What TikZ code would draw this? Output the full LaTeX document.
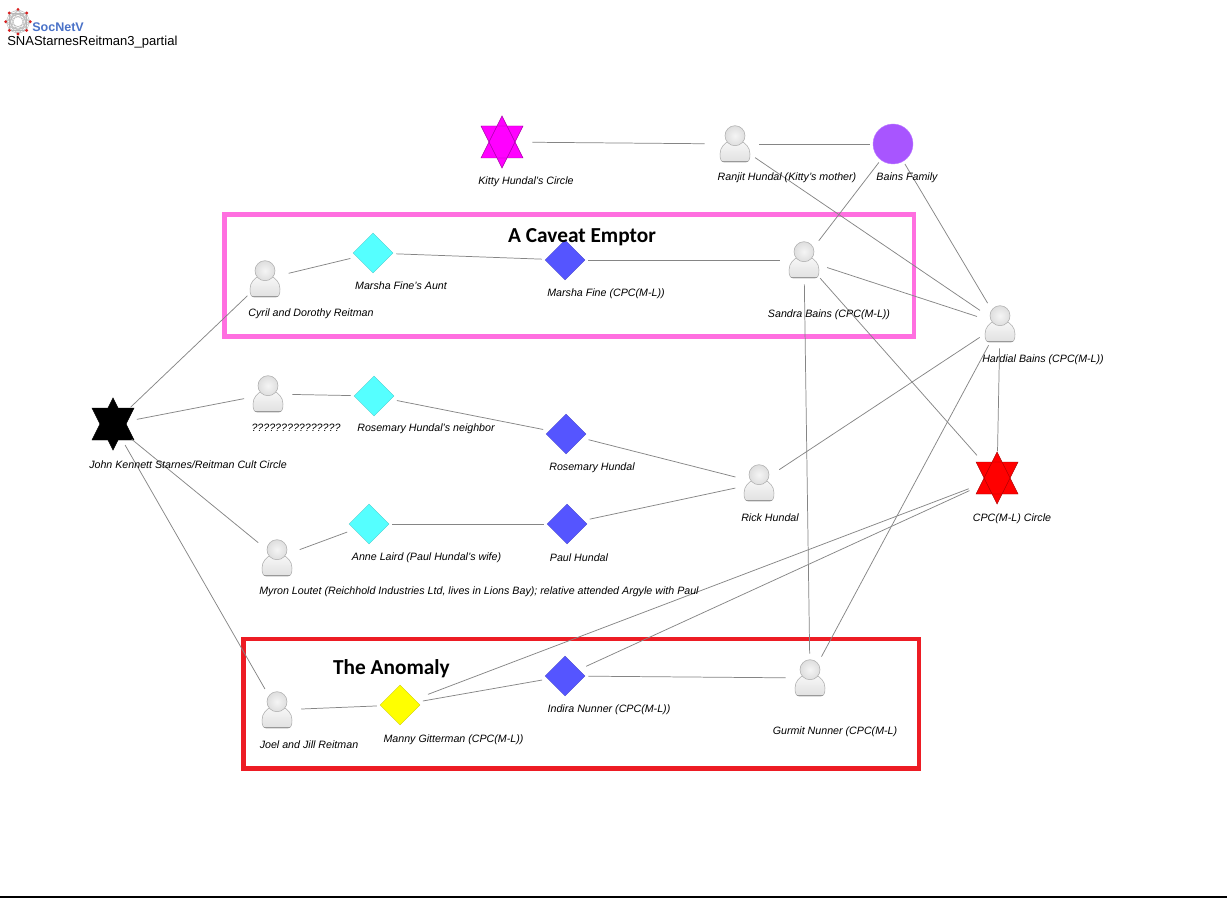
\documentclass[tikz,border=0pt]{standalone}
\usepackage{fontspec}
\usetikzlibrary{calc}
\setmainfont{Liberation Sans}
\newfontfamily\titlefont{Carlito}
\definecolor{edgegrey}{HTML}{858585}
\definecolor{pinkbox}{HTML}{FF6FE0}
\definecolor{redbox}{HTML}{ED1C24}
\definecolor{cyanN}{HTML}{55FFFF}
\definecolor{blueN}{HTML}{5555FF}
\definecolor{purpleN}{HTML}{A855FF}
\definecolor{magentaN}{HTML}{FF00FF}
\definecolor{yellowN}{HTML}{FFFF00}
\definecolor{redN}{HTML}{FF0000}
\definecolor{blackN}{HTML}{000000}
\definecolor{logoblue}{HTML}{4A72C8}
\definecolor{logored}{HTML}{D92020}
\tikzset{
  hit/.style={circle,inner sep=0pt,minimum size=#1},
  conn/.style={draw=edgegrey,line width=0.55pt},
  lbl/.style={font=\fontsize{8pt}{9pt}\selectfont\itshape,inner sep=0pt},
  frame/.style={line width=3.5pt,draw=#1},
  bigtitle/.style={font=\titlefont\bfseries\fontsize{16pt}{18pt}\selectfont,inner sep=0pt}
}
\newcommand\personN[3]{%
  \node[hit=48*0.75pt] (#1) at (#2,#3) {};
  \begin{scope}[shift={(#2,#3)}]
    \draw[draw=black!32,line width=0.4pt,top color=black!3,bottom color=black!12]
      (-6,-3) .. controls (-10,-1) and (-15,3) .. (-15,10)
      .. controls (-15,15) and (-14,18) .. (-11,18) -- (11,18)
      .. controls (14,18) and (15,15) .. (15,10)
      .. controls (15,3) and (10,-1) .. (6,-3) -- cycle;
    \draw[black!40,line width=0.9pt] (-13,17.6) -- (13,17.6);
    \draw[draw=black!32,line width=0.4pt,inner color=black!4,outer color=black!13] (0,-8.3) circle[radius=10];
  \end{scope}}
\newcommand\diamondN[4]{%
  \node[hit=46*0.75pt] (#1) at (#2,#3) {};
  \begin{scope}[shift={(#2,#3)}]
    \draw[fill=#4,draw=#4!75!black,line width=0.2pt] (0,-20) -- (20,0) -- (0,20) -- (-20,0) -- cycle;
  \end{scope}}
% name, x, y, colour, size of the free zone round the star
\newcommand\starN[5]{%
  \node[hit=#5*0.75pt] (#1) at (#2,#3) {};
  \begin{scope}[shift={(#2,#3)}]
    \fill[#4] (0,-26) -- (21,16) -- (-21,16) -- cycle;
    \fill[#4] (0,26) -- (21,-16) -- (-21,-16) -- cycle;
    \draw[#4!65!black,line width=0.35pt] (0,-26) -- (21,16) -- (-21,16) -- cycle;
    \draw[#4!65!black,line width=0.35pt] (0,26) -- (21,-16) -- (-21,-16) -- cycle;
  \end{scope}}
\begin{document}
\begin{tikzpicture}[x=0.75pt,y=-0.75pt]
\useasboundingbox (0,0) rectangle (1227,898);
\fill[white] (0,0) rectangle (1227,898);
\fill[black] (0,896) rectangle (1227,898);
% frames
\draw[frame=pinkbox] (224.5,214.5) rectangle (914,336.6);
\draw[frame=redbox] (243.5,639) rectangle (919,768.3);
% logo
\coordinate (lc) at (18,21.7);
\foreach \a in {0,45,...,315}{
  \foreach \b in {45,90,135}{
    \draw[black!28,line width=0.35pt] ($(lc)+(\a:12)$) -- ($(lc)+(\a+\b:12)$);
  }
}
\draw[black!25,line width=1pt] (lc) circle[radius=7.5];
\foreach \a in {0,45,...,315}{
  \fill[logored] ($(lc)+(\a+90:12.3)$) circle[radius=1.6];
}
\node[anchor=west,inner sep=0pt,text=logoblue,font=\bfseries\fontsize{9.4pt}{10pt}\selectfont] (logo) at (32,27) {SocNetV};
\node[anchor=west,inner sep=0pt,font=\fontsize{9.77pt}{11pt}\selectfont] (net) at (7,42.5) {SNAStarnesReitman3\_partial};
% nodes
\starN{kitty}{502}{142}{magentaN}{60}
\personN{ranjit}{735}{144}
\node[hit=46*0.75pt] (bains) at (893,144) {};
\draw[fill=purpleN,draw=purpleN!75!white,line width=0.3pt] (893,144) circle[radius=20];
\personN{cyril}{265}{279}
\diamondN{mfa}{373}{253}{cyanN}
\diamondN{mf}{565}{260}{blueN}
\personN{sandra}{804}{260}
\personN{hardial}{1000}{324}
\starN{jk}{113}{424}{blackN}{48}
\personN{qq}{268}{394}
\diamondN{rn}{374}{396}{cyanN}
\diamondN{rh}{566}{434}{blueN}
\personN{rick}{759}{483}
\starN{cpc}{997}{478}{redN}{60}
\personN{myron}{277}{558}
\diamondN{anne}{369}{524}{cyanN}
\diamondN{paul}{567}{524}{blueN}
\personN{joel}{277}{710}
\diamondN{manny}{400}{705}{yellowN}
\diamondN{indira}{565}{676}{blueN}
\personN{gurmit}{810}{678}
% connectors
\foreach \p/\q in {ranjit/bains,ranjit/hardial,bains/sandra,bains/hardial,
  cyril/mfa,mfa/mf,mf/sandra,sandra/hardial,sandra/cpc,sandra/gurmit,cyril/jk,jk/qq,qq/rn,
  rn/rh,rh/rick,rick/hardial,hardial/gurmit,jk/myron,myron/anne,anne/paul,
  paul/rick,jk/joel,joel/manny,manny/indira,indira/cpc,indira/gurmit}{
  \draw[conn] (\p) -- (\q);
}
\draw[conn,shorten >=4.5pt] (kitty) -- (ranjit);
\draw[conn,shorten >=-2.6pt] (hardial) -- (cpc);
\draw[conn,shorten <=5pt] (manny) -- (cpc);
% labels
\node[lbl] (l1) at (526,182) {Kitty Hundal's Circle};
\node[lbl] (l2) at (787,178) {Ranjit Hundal (Kitty's mother)};
\node[lbl] (l3) at (907,178) {Bains Family};
\node[lbl] (l4) at (401,286) {Marsha Fine's Aunt};
\node[lbl] (l5) at (606,293.5) {Marsha Fine (CPC(M-L))};
\node[lbl] (l6) at (311,314) {Cyril and Dorothy Reitman};
\node[lbl] (l7) at (829,314.5) {Sandra Bains (CPC(M-L))};
\node[lbl] (l8) at (1043,359.5) {Hardial Bains (CPC(M-L))};
\node[lbl] (l9) at (296,428) {???????????????};
\node[lbl] (l10) at (426,429) {Rosemary Hundal's neighbor};
\node[lbl] (l11) at (592,467.5) {Rosemary Hundal};
\node[lbl] (l12) at (188,465) {John Kennett Starnes/Reitman Cult Circle};
\node[lbl] (l13) at (770,517.5) {Rick Hundal};
\node[lbl] (l14) at (1012,518.5) {CPC(M-L) Circle};
\node[lbl] (l15) at (426.5,558) {Anne Laird (Paul Hundal's wife)};
\node[lbl] (l16) at (579,558) {Paul Hundal};
\node[lbl] (l17) at (479,592) {Myron Loutet (Reichhold Industries Ltd, lives in Lions Bay); relative attended Argyle with Paul};
\node[lbl] (l18) at (309,745) {Joel and Jill Reitman};
\node[lbl] (l19) at (453.5,739.5) {Manny Gitterman (CPC(M-L))};
\node[lbl] (l20) at (609,710) {Indira Nunner (CPC(M-L))};
\node[lbl] (l21) at (835,732) {Gurmit Nunner (CPC(M-L)};
\node[bigtitle] (t1) at (582,237.5) {A Caveat Emptor};
\node[bigtitle] (t2) at (391.5,668.5) {The Anomaly};
\end{tikzpicture}
\end{document}
